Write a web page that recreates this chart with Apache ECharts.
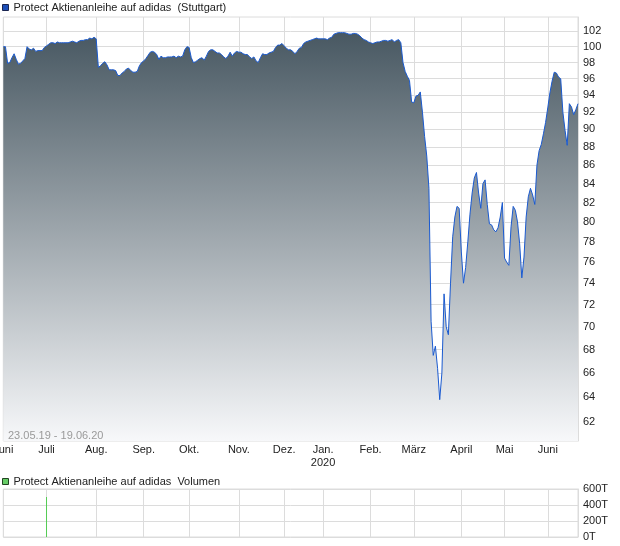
<!DOCTYPE html>
<html><head><meta charset="utf-8">
<script src="https://cdn.jsdelivr.net/npm/echarts@6/dist/echarts.min.js"></script>
<style>html,body{margin:0;padding:0;background:#fff}#c{width:620px;height:546px}</style>
</head><body><div id="c"></div>
<script>
const FONT = "'Liberation Sans', Arial, sans-serif";
const mainName = 'Protect Aktienanleihe auf adidas  (Stuttgart)';
const volName = 'Protect Aktienanleihe auf adidas  Volumen';
const dateRange = '23.05.19 - 19.06.20';

const monthLabels = ['Juni','Juli','Aug.','Sep.','Okt.','Nov.','Dez.','Jan.\n2020','Feb.','März','April','Mai','Juni'];

// daily closing prices (trading days), one array per month
const jun19 = [100.0,100.0,97.9,98.0,98.6,99.1,98.4,97.8,97.9,98.2,98.5,100.0,99.7,99.6,99.8,99.4,99.5,99.5,99.5,99.9];
const jul19 = [100.1,100.3,100.5,100.5,100.4,100.6,100.5,100.5,100.5,100.5,100.5,100.6,100.7,100.6,100.5,100.7,100.8,100.8,100.9,100.9,101.1,101.0,101.2];
const aug19 = [101.0,97.4,97.6,97.9,98.1,97.7,97.1,97.1,97.1,97.0,96.4,96.4,96.7,96.9,97.2,97.3,97.0,96.8,96.8,96.9,97.6,98.0];
const sep19 = [98.2,98.5,98.9,99.3,99.4,99.3,99.0,98.4,98.8,98.6,98.6,98.7,98.7,98.7,98.8,98.6,98.8,98.7,98.8,99.6,100.0];
const oct19 = [99.9,98.6,98.0,98.1,98.3,98.5,98.6,98.3,98.8,99.4,99.6,99.6,99.4,99.2,99.2,99.0,98.7,98.5,98.8,99.3,98.8,99.2,99.4];
const nov19 = [99.3,99.3,99.1,99.0,99.0,98.7,98.5,98.7,98.2,98.0,98.6,99.1,99.0,99.0,99.2,99.3,99.4,99.9,100.2,100.2,100.4];
const dec19 = [100.1,99.8,99.6,99.6,99.4,99.1,99.4,99.8,99.9,100.4,100.6,100.7,100.8,100.9,101.0,101.1,101.0,101.0];
const jan20 = [101.0,101.0,100.9,101.1,101.2,101.6,101.7,101.8,101.8,101.8,101.8,101.7,101.6,101.6,101.7,101.7,101.6,101.4,101.1,100.9,100.8,100.6];
const feb20 = [100.5,100.4,100.5,100.6,100.6,100.7,100.8,100.8,100.7,100.8,100.9,100.6,100.8,100.9,100.5,98.0,96.9,96.3,95.8,93.2];
const mar20 = [93.1,93.9,94.0,94.4,92.0,89.2,87.0,83.5,70.5,67.5,68.3,66.4,63.8,66.0,73.0,70.0,69.3,74.0,78.5,80.5,81.6,81.4];
const apr20 = [77.0,74.0,75.5,78.0,80.8,83.0,84.6,85.2,83.0,81.4,84.0,84.4,81.8,79.8,79.7,79.2,79.0,79.4,80.5,82.0];
const may20 = [76.4,76.0,75.7,79.5,81.6,81.2,80.0,77.8,74.5,76.5,80.5,82.6,83.5,82.8,81.8,86.0,87.6,88.3,89.5,90.8];
const jun20 = [92.5,94.3,95.7,96.8,96.7,96.2,96.0,92.0,89.9,88.2,93.0,92.6,91.7,92.3,93.0];
const priceMonths = [jun19,jul19,aug19,sep19,oct19,nov19,dec19,jan20,feb20,mar20,apr20,may20,jun20];

const priceTicks = [62,64,66,68,70,72,74,76,78,80,82,84,86,88,90,92,94,96,98,100,102];
const volumeTicks = [0,200000,400000,600000];
// volume: only one traded day visible (early July 2019)
const volumeDayIndex = [20];
const volumeDayValue = [500000];

const categories = [], price = [], labelOf = {};
priceMonths.forEach((arr, m) => {
  arr.forEach((v, d) => {
    const key = m + '-' + d;
    categories.push(key);
    if (d === 0) labelOf[key] = monthLabels[m];
    price.push(v);
  });
});
const volume = categories.map((c, i) => {
  const j = volumeDayIndex.indexOf(i);
  return j >= 0 ? volumeDayValue[j] : 0;
});
const isMonthStart = (i, v) => !!labelOf[v];

const gridColor = '#dcdcdc';
const chart = echarts.init(document.getElementById('c'), null, {renderer: 'canvas'});
chart.setOption({
  animation: false,
  backgroundColor: '#fff',
  textStyle: {fontFamily: FONT},
  title: {text: dateRange, left: 8, top: 430, padding: 0,
    textStyle: {fontSize: 11, color: '#9a9a9a', fontWeight: 'normal', fontFamily: FONT}},
  legend: [
    {left: 2, top: 2, padding: 0, itemWidth: 6, itemHeight: 6, icon: 'rect', selectedMode: false,
     data: [{name: mainName, itemStyle: {color: '#1d4fb8', borderColor: '#1a2550', borderWidth: 1}}],
     textStyle: {fontSize: 11, color: '#222', fontFamily: FONT}},
    {left: 2, top: 476, padding: 0, itemWidth: 6, itemHeight: 6, icon: 'rect', selectedMode: false,
     data: [{name: volName, itemStyle: {color: '#66cc66', borderColor: '#224422', borderWidth: 1}}],
     textStyle: {fontSize: 11, color: '#222', fontFamily: FONT}}
  ],
  grid: [
    {left: 3.3, right: 42, top: 17, bottom: 105, show: true, borderColor: gridColor, borderWidth: 1, outerBoundsMode: 'none', containLabel: false},
    {left: 3.3, right: 42, top: 489, bottom: 9, show: true, borderColor: gridColor, borderWidth: 1, outerBoundsMode: 'none', containLabel: false}
  ],
  xAxis: [
    {type: 'category', gridIndex: 0, data: categories, boundaryGap: false,
     axisLine: {show: false}, axisTick: {show: false},
     axisLabel: {interval: isMonthStart, formatter: v => labelOf[v] || '', fontSize: 11, color: '#222',
       margin: 2, lineHeight: 13, fontFamily: FONT, hideOverlap: false, showMinLabel: true},
     splitLine: {show: true, interval: isMonthStart, lineStyle: {color: gridColor, width: 1}}},
    {type: 'category', gridIndex: 1, data: categories, boundaryGap: false,
     axisLine: {show: false}, axisTick: {show: false}, axisLabel: {show: false},
     splitLine: {show: true, interval: isMonthStart, lineStyle: {color: gridColor, width: 1}}}
  ],
  yAxis: [
    {type: 'log', gridIndex: 0, position: 'right', min: 60.53, max: 103.85, logBase: 10,
     axisLine: {show: true, lineStyle: {color: gridColor}},
     axisTick: {show: false, customValues: priceTicks},
     axisLabel: {customValues: priceTicks, formatter: v => String(Math.round(v)), fontSize: 11, color: '#222', margin: 5, fontFamily: FONT},
     splitLine: {show: true, lineStyle: {color: gridColor, width: 1}}},
    {type: 'value', gridIndex: 1, position: 'right', min: 0, max: 600000, interval: 200000,
     axisLine: {show: true, lineStyle: {color: gridColor}}, axisTick: {show: false},
     axisLabel: {formatter: v => (v / 1000) + 'T', fontSize: 11, color: '#222', margin: 5, fontFamily: FONT},
     splitLine: {show: true, lineStyle: {color: gridColor, width: 1}}}
  ],
  series: [
    {name: mainName, type: 'line', xAxisIndex: 0, yAxisIndex: 0, data: price,
     symbol: 'none', showSymbol: false, smooth: false,
     itemStyle: {color: '#1d4fb8'},
     lineStyle: {color: '#1a5ad0', width: 1},
     areaStyle: {origin: 'start', opacity: 1,
       color: new echarts.graphic.LinearGradient(0, 0, 0, 1, [
         {offset: 0, color: 'rgb(72,88,98)'},
         {offset: 1, color: 'rgb(247,248,250)'}])}},
    {name: volName, type: 'bar', xAxisIndex: 1, yAxisIndex: 1, data: volume,
     barWidth: 1, itemStyle: {color: '#55cc55'}}
  ]
});
</script></body></html>
